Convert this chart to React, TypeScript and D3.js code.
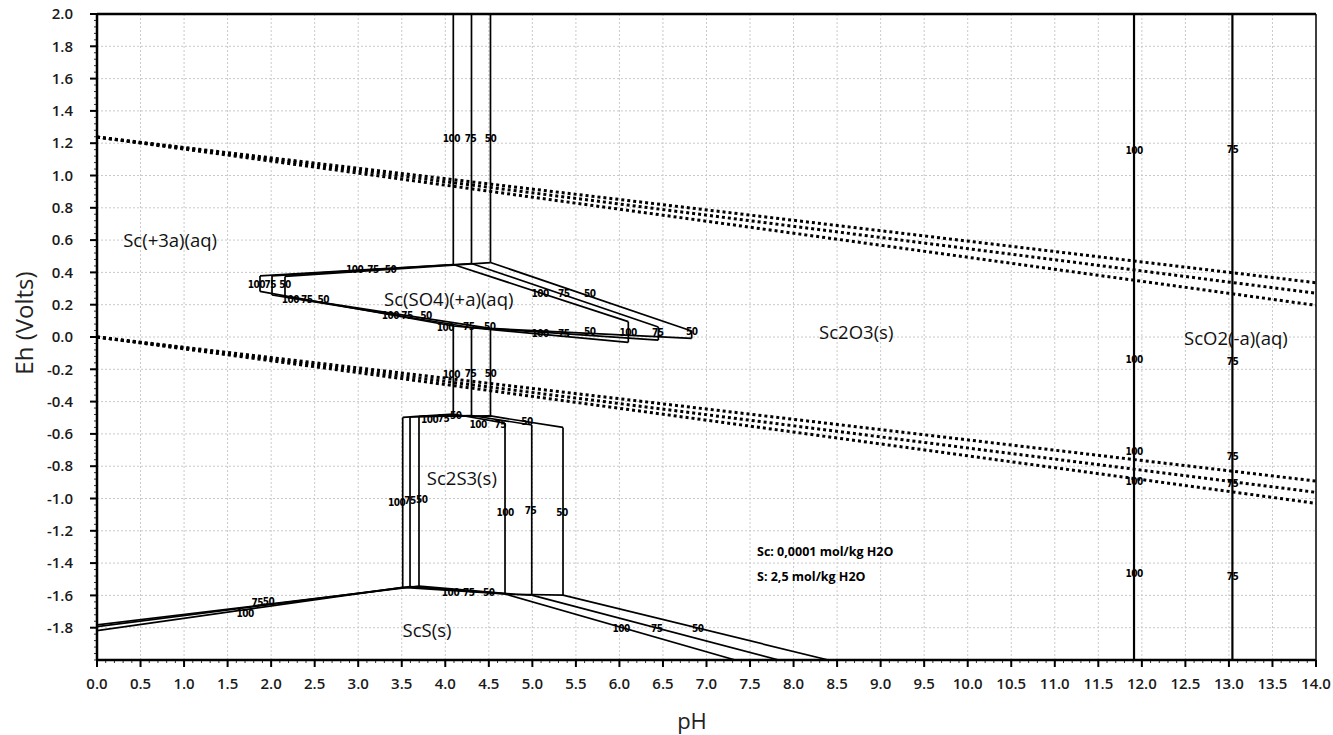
import React from "react";
import * as d3 from "d3";

type Pt = [number, number];
type Lbl = [string, number, number];

// ---- axes ----
const xTicks = [0, 0.5, 1, 1.5, 2, 2.5, 3, 3.5, 4, 4.5, 5, 5.5, 6, 6.5, 7, 7.5, 8, 8.5, 9, 9.5, 10, 10.5, 11, 11.5, 12, 12.5, 13, 13.5, 14];
const xTickLabels = ["0.0", "0.5", "1.0", "1.5", "2.0", "2.5", "3.0", "3.5", "4.0", "4.5", "5.0", "5.5", "6.0", "6.5", "7.0", "7.5", "8.0", "8.5", "9.0", "9.5", "10.0", "10.5", "11.0", "11.5", "12.0", "12.5", "13.0", "13.5", "14.0"];
const yTicks = [2.0, 1.8, 1.6, 1.4, 1.2, 1.0, 0.8, 0.6, 0.4, 0.2, 0.0, -0.2, -0.4, -0.6, -0.8, -1.0, -1.2, -1.4, -1.6, -1.8];
const yTickLabels = ["2.0", "1.8", "1.6", "1.4", "1.2", "1.0", "0.8", "0.6", "0.4", "0.2", "0.0", "-0.2", "-0.4", "-0.6", "-0.8", "-1.0", "-1.2", "-1.4", "-1.6", "-1.8"];
const xDomain: Pt = [0, 14];
const yDomain: Pt = [-2, 2];

// ---- boundary lines, order: 100, 75, 50 ----
const upperVerticals: Pt[][] = [
  [[4.092, 2.0], [4.092, 0.449]],
  [[4.301, 2.0], [4.301, 0.455]],
  [[4.519, 2.0], [4.519, 0.461]],
];
const sulfTopLeft: Pt[][] = [
  [[1.872, 0.378], [4.092, 0.449]],
  [[2.01, 0.378], [4.301, 0.455]],
  [[2.159, 0.375], [4.519, 0.461]],
];
const sulfLeftEnd: Pt[][] = [
  [[1.872, 0.378], [1.872, 0.282]],
  [[2.01, 0.378], [2.01, 0.26]],
  [[2.159, 0.375], [2.159, 0.248]],
];
const sulfBottom: Pt[][] = [
  [[1.872, 0.282], [4.092, 0.068], [6.102, -0.033]],
  [[2.01, 0.26], [4.301, 0.059], [6.447, -0.019]],
  [[2.159, 0.248], [4.519, 0.053], [6.83, -0.008]],
];
const sulfRightEnd: Pt[][] = [
  [[6.102, -0.033], [6.102, 0.095]],
  [[6.447, -0.019], [6.447, 0.062]],
  [[6.83, -0.008], [6.83, 0.037]],
];
const sulfSlant: Pt[][] = [
  [[4.092, 0.449], [6.102, 0.095]],
  [[4.301, 0.455], [6.447, 0.062]],
  [[4.519, 0.461], [6.83, 0.037]],
];
const middleVerticals: Pt[][] = [
  [[4.092, 0.068], [4.092, -0.477]],
  [[4.301, 0.059], [4.301, -0.486]],
  [[4.519, 0.053], [4.519, -0.489]],
];
const sc2s3Top: Pt[][] = [
  [[3.511, -0.498], [4.092, -0.477], [4.686, -0.533]],
  [[3.595, -0.495], [4.301, -0.486], [4.993, -0.545]],
  [[3.698, -0.492], [4.519, -0.489], [5.352, -0.56]],
];
const sc2s3Left: Pt[][] = [
  [[3.511, -0.498], [3.511, -1.55]],
  [[3.595, -0.495], [3.595, -1.546]],
  [[3.698, -0.492], [3.698, -1.542]],
];
const sc2s3Right: Pt[][] = [
  [[4.686, -0.533], [4.686, -1.591]],
  [[4.993, -0.545], [4.993, -1.598]],
  [[5.352, -0.56], [5.352, -1.598]],
];
const sc2s3Bottom: Pt[][] = [
  [[3.511, -1.55], [4.686, -1.591]],
  [[3.595, -1.546], [4.75, -1.592], [4.993, -1.598]],
  [[3.698, -1.542], [4.8, -1.593], [5.352, -1.598]],
];
const scsLeft: Pt[][] = [
  [[0, -1.818], [3.511, -1.55]],
  [[0, -1.794], [3.595, -1.546]],
  [[0, -1.783], [3.698, -1.542]],
];
const scsSlant: Pt[][] = [
  [[4.686, -1.591], [7.33, -2.0]],
  [[4.993, -1.598], [7.83, -2.0]],
  [[5.352, -1.598], [8.4, -2.0]],
];
const alkalineVerticals: Pt[][] = [
  [[11.91, 2.0], [11.91, -2.0]],
  [[13.04, 2.0], [13.04, -2.0]],
];
const waterUpper: Pt[][] = [
  [[0, 1.238], [14, 0.196]],
  [[0, 1.238], [14, 0.271]],
  [[0, 1.238], [14, 0.336]],
];
const waterLower: Pt[][] = [
  [[0, 0.0], [14, -1.03]],
  [[0, 0.0], [14, -0.962]],
  [[0, 0.0], [14, -0.892]],
];

// ---- temperature labels (text, pH, Eh) ----
const tempLabels: Lbl[] = [
  ["100", 4.07, 1.232], ["75", 4.29, 1.228], ["50", 4.52, 1.228],
  ["100", 4.07, -0.235], ["75", 4.29, -0.229], ["50", 4.52, -0.229],
  ["100", 4.0, 0.056], ["75", 4.27, 0.062], ["50", 4.51, 0.068],
  ["100", 2.96, 0.415], ["75", 3.17, 0.421], ["50", 3.37, 0.421],
  ["100", 1.83, 0.322], ["75", 1.99, 0.322], ["50", 2.16, 0.322],
  ["100", 2.22, 0.233], ["75", 2.41, 0.233], ["50", 2.6, 0.235],
  ["100", 3.37, 0.132], ["75", 3.56, 0.132], ["50", 3.78, 0.135],
  ["100", 5.09, 0.019], ["75", 5.36, 0.019], ["50", 5.66, 0.031],
  ["100", 6.1, 0.025], ["75", 6.44, 0.025], ["50", 6.83, 0.031],
  ["100", 5.09, 0.272], ["75", 5.36, 0.272], ["50", 5.66, 0.272],
  ["100", 3.82, -0.508], ["75", 3.98, -0.502], ["50", 4.12, -0.487],
  ["100", 4.376, -0.539], ["75", 4.63, -0.539], ["50", 4.94, -0.524],
  ["100", 3.44, -1.022], ["75", 3.595, -1.015], ["50", 3.73, -1.009],
  ["100", 4.686, -1.084], ["75", 4.98, -1.077], ["50", 5.34, -1.084],
  ["100", 4.06, -1.585], ["75", 4.27, -1.585], ["50", 4.5, -1.585],
  ["100", 6.02, -1.808], ["75", 6.43, -1.808], ["50", 6.9, -1.808],
  ["100", 1.7, -1.712], ["75", 1.84, -1.642], ["50", 1.97, -1.636],
  ["100", 11.91, 1.154], ["75", 13.04, 1.158],
  ["100", 11.91, -0.138], ["75", 13.04, -0.153],
  ["100", 11.91, -0.71], ["75", 13.04, -0.737],
  ["100", 11.91, -0.892], ["75", 13.04, -0.906],
  ["100", 11.91, -1.467], ["75", 13.04, -1.48],
];

const regionLabels: Lbl[] = [
  ["Sc(+3a)(aq)", 0.84, 0.6],
  ["Sc(SO4)(+a)(aq)", 4.04, 0.235],
  ["Sc2O3(s)", 8.72, 0.025],
  ["ScO2(-a)(aq)", 13.08, -0.012],
  ["Sc2S3(s)", 4.19, -0.879],
  ["ScS(s)", 3.79, -1.82],
];

const noteLines: Lbl[] = [
  ["Sc: 0,0001 mol/kg H2O", 7.58, -1.331],
  ["S: 2,5 mol/kg H2O", 7.58, -1.486],
];

const X0 = 97, X1 = 1316, Y0 = 14, Y1 = 660;

export default function App() {
  const x = d3.scaleLinear().domain(xDomain).range([X0, X1]);
  const y = d3.scaleLinear().domain(yDomain).range([Y1, Y0]);
  const line = d3.line<Pt>().x((d) => x(d[0])).y((d) => y(d[1]));

  const solidGroups = [
    upperVerticals, sulfTopLeft, sulfLeftEnd, sulfBottom, sulfRightEnd, sulfSlant,
    middleVerticals, sc2s3Top, sc2s3Left, sc2s3Right, sc2s3Bottom, scsLeft, scsSlant,
  ];
  const xMinor = d3.range(0, 14.0001, 0.1);
  const yMinor = d3.range(-2, 2.0001, 0.04);
  const font = "'Open Sans', 'Noto Sans', sans-serif";
  const smallFont = "'DejaVu Sans Condensed', 'Liberation Sans Narrow', 'DejaVu Sans', sans-serif";

  return (
    <svg width={1333} height={735} style={{ position: "absolute", left: 0, top: 0, background: "#fff" }}>
      <defs>
        <clipPath id="plot">
          <rect x={X0} y={Y0} width={X1 - X0} height={Y1 - Y0} />
        </clipPath>
      </defs>
      {/* grid */}
      <g stroke="#c9c9c9" strokeWidth={1} strokeDasharray="2,2">
        {xTicks.filter((t) => t > 0 && t < 14).map((t) => (
          <line key={"gx" + t} x1={x(t)} x2={x(t)} y1={Y0} y2={Y1} />
        ))}
        {yTicks.filter((t) => t < 2).map((t) => (
          <line key={"gy" + t} x1={X0} x2={X1} y1={y(t)} y2={y(t)} />
        ))}
      </g>
      {/* minor ticks */}
      <g stroke="#333" strokeWidth={1}>
        {xMinor.map((t, i) => (
          <line key={"mx" + i} x1={x(t)} x2={x(t)} y1={Y1} y2={Y1 + 3} />
        ))}
        {yMinor.map((t, i) => (
          <line key={"my" + i} x1={X0 - 3} x2={X0} y1={y(t)} y2={y(t)} />
        ))}
      </g>
      <g stroke="#000" strokeWidth={2}>
        {xTicks.map((t) => (
          <line key={"tx" + t} x1={x(t)} x2={x(t)} y1={Y1} y2={Y1 + 7} />
        ))}
        {yTicks.map((t) => (
          <line key={"ty" + t} x1={X0 - 7} x2={X0} y1={y(t)} y2={y(t)} />
        ))}
      </g>
      {/* water lines */}
      <g clipPath="url(#plot)" fill="none" stroke="#000" strokeWidth={3} strokeDasharray="3,3">
        {[...waterUpper, ...waterLower].map((p, i) => (
          <path key={"w" + i} d={line(p) || ""} />
        ))}
      </g>
      {/* boundaries */}
      <g clipPath="url(#plot)" fill="none" stroke="#000" strokeWidth={1.7} strokeLinejoin="miter">
        {solidGroups.flatMap((g, gi) =>
          g.map((p, i) => <path key={"s" + gi + "_" + i} d={line(p) || ""} />)
        )}
        {alkalineVerticals.map((p, i) => (
          <path key={"a" + i} d={line(p) || ""} strokeWidth={2.2} />
        ))}
      </g>
      {/* frame */}
      <g stroke="#000" fill="none">
        <line x1={X0} x2={X1} y1={Y0} y2={Y0} strokeWidth={2.5} />
        <line x1={X1} x2={X1} y1={Y0} y2={Y1} strokeWidth={1.5} />
        <line x1={X0} x2={X0} y1={Y0} y2={Y1} strokeWidth={2.5} />
        <line x1={X0} x2={X1} y1={Y1} y2={Y1} strokeWidth={2.5} />
      </g>
      {/* temperature labels */}
      <g fontFamily={smallFont} fontSize={10} fontWeight="bold" textAnchor="middle" fill="#000">
        {tempLabels.map((l, i) => (
          <text key={"tl" + i} x={x(l[1])} y={y(l[2])} dy="0.35em" letterSpacing={-0.5}>{l[0]}</text>
        ))}
      </g>
      {/* region labels */}
      <g fontFamily={font} fontSize={18.5} textAnchor="middle" fill="#111">
        {regionLabels.map((l, i) => (
          <text key={"rl" + i} x={x(l[1])} y={y(l[2])} dy="0.35em">{l[0]}</text>
        ))}
      </g>
      <g fontFamily={font} fontSize={12.5} fontWeight="bold" fill="#000">
        {noteLines.map((l, i) => (
          <text key={"nl" + i} x={x(l[1])} y={y(l[2])} dy="0.35em">{l[0]}</text>
        ))}
      </g>
      {/* tick labels */}
      <g fontFamily={font} fontSize={15} fontWeight={600} fill="#1a1a1a">
        {xTicks.map((t, i) => (
          <text key={"xl" + t} x={x(t)} y={Y1 + 29} textAnchor="middle">{xTickLabels[i]}</text>
        ))}
        {yTicks.map((t, i) => (
          <text key={"yl" + t} x={73} y={y(t)} dy="0.35em" textAnchor="end">{yTickLabels[i]}</text>
        ))}
      </g>
      <text x={692} y={729} fontFamily={font} fontSize={22} textAnchor="middle" fill="#222">pH</text>
      <text transform="translate(33,323) rotate(-90)" fontFamily={font} fontSize={24} textAnchor="middle" fill="#222">Eh (Volts)</text>
    </svg>
  );
}
